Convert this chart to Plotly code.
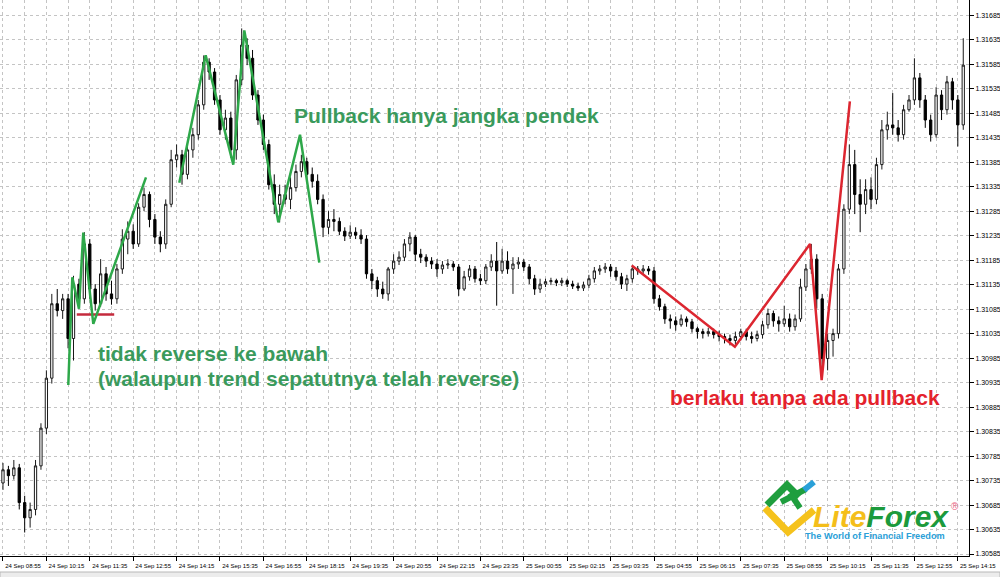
import plotly.graph_objects as go

# ---------------- data (10-minute bars) ----------------
opens = [
1.30730,1.30757,1.30745,1.30761,1.30690,1.30659,1.30676,1.30765,1.30842,1.30944,
1.31096,1.31082,1.31106,1.31025,1.31136,1.31106,1.31218,1.31126,1.31096,1.31157,
1.31116,1.31106,1.31167,1.31228,1.31244,1.31218,1.31293,1.31319,1.31268,1.31232,
1.31218,1.31299,1.31390,1.31400,1.31360,1.31410,1.31441,1.31502,1.31589,1.31569,
1.31512,1.31451,1.31475,1.31410,1.31553,1.31624,1.31597,1.31522,1.31471,1.31421,
1.31339,1.31299,1.31319,1.31309,1.31333,1.31366,1.31386,1.31360,1.31346,1.31309,
1.31252,1.31268,1.31264,1.31244,1.31234,1.31242,1.31236,1.31228,1.31157,1.31143,
1.31126,1.31116,1.31167,1.31183,1.31191,1.31218,1.31232,1.31197,1.31191,1.31183,
1.31177,1.31167,1.31175,1.31177,1.31171,1.31126,1.31151,1.31167,1.31147,1.31143,
1.31171,1.31183,1.31163,1.31183,1.31167,1.31177,1.31181,1.31171,1.31147,1.31126,
1.31136,1.31141,1.31143,1.31139,1.31143,1.31136,1.31132,1.31128,1.31134,1.31147,
1.31163,1.31167,1.31171,1.31163,1.31151,1.31136,1.31147,1.31167,1.31163,1.31167,
1.31163,1.31106,1.31090,1.31065,1.31061,1.31053,1.31065,1.31059,1.31045,1.31039,
1.31035,1.31039,1.31033,1.31029,1.31025,1.31021,1.31029,1.31039,1.31029,1.31025,
1.31033,1.31053,1.31076,1.31061,1.31055,1.31065,1.31049,1.31065,1.31130,1.31167,
1.31187,1.31106,1.30984,1.31021,1.31035,1.31167,1.31289,1.31380,1.31319,1.31299,
1.31329,1.31309,1.31380,1.31451,1.31461,1.31455,1.31441,1.31492,1.31512,1.31557,
1.31512,1.31471,1.31441,1.31522,1.31492,1.31549,1.31512,1.31461]

highs = [
1.30771,1.30765,1.30777,1.30769,1.30704,1.30690,1.30777,1.30852,1.30960,1.31116,
1.31126,1.31116,1.31116,1.31153,1.31147,1.31242,1.31228,1.31136,1.31187,1.31171,
1.31143,1.31177,1.31248,1.31264,1.31258,1.31301,1.31333,1.31325,1.31279,1.31244,
1.31309,1.31410,1.31421,1.31410,1.31421,1.31455,1.31512,1.31603,1.31597,1.31577,
1.31522,1.31492,1.31488,1.31563,1.31658,1.31638,1.31614,1.31532,1.31482,1.31431,
1.31360,1.31339,1.31339,1.31354,1.31380,1.31400,1.31394,1.31374,1.31360,1.31319,
1.31285,1.31289,1.31272,1.31252,1.31256,1.31252,1.31248,1.31236,1.31167,1.31151,
1.31141,1.31171,1.31197,1.31203,1.31228,1.31242,1.31236,1.31208,1.31197,1.31191,
1.31187,1.31183,1.31187,1.31183,1.31177,1.31163,1.31175,1.31173,1.31157,1.31177,
1.31197,1.31222,1.31208,1.31203,1.31191,1.31191,1.31187,1.31177,1.31155,1.31147,
1.31147,1.31149,1.31147,1.31149,1.31147,1.31143,1.31139,1.31141,1.31155,1.31171,
1.31175,1.31179,1.31177,1.31171,1.31159,1.31155,1.31175,1.31173,1.31175,1.31173,
1.31171,1.31114,1.31096,1.31074,1.31070,1.31074,1.31070,1.31065,1.31049,1.31045,
1.31047,1.31045,1.31041,1.31035,1.31033,1.31039,1.31045,1.31045,1.31039,1.31041,
1.31061,1.31086,1.31082,1.31070,1.31092,1.31076,1.31074,1.31147,1.31177,1.31218,
1.31197,1.31116,1.31035,1.31045,1.31177,1.31299,1.31421,1.31410,1.31350,1.31350,
1.31354,1.31394,1.31471,1.31488,1.31526,1.31471,1.31502,1.31522,1.31597,1.31567,
1.31522,1.31482,1.31538,1.31532,1.31561,1.31557,1.31522,1.31638]

lows = [
1.30716,1.30724,1.30737,1.30676,1.30629,1.30639,1.30664,1.30757,1.30830,1.30933,
1.31070,1.31065,1.31005,1.30980,1.31086,1.31096,1.31106,1.31082,1.31090,1.31102,
1.31094,1.31096,1.31157,1.31197,1.31208,1.31212,1.31285,1.31252,1.31218,1.31201,
1.31208,1.31293,1.31374,1.31339,1.31350,1.31394,1.31431,1.31492,1.31553,1.31502,
1.31441,1.31431,1.31394,1.31390,1.31542,1.31583,1.31512,1.31461,1.31410,1.31329,
1.31279,1.31262,1.31299,1.31289,1.31325,1.31354,1.31350,1.31333,1.31299,1.31232,
1.31238,1.31244,1.31236,1.31224,1.31228,1.31228,1.31218,1.31147,1.31126,1.31110,
1.31106,1.31102,1.31157,1.31175,1.31183,1.31203,1.31183,1.31179,1.31171,1.31167,
1.31151,1.31157,1.31167,1.31163,1.31112,1.31122,1.31143,1.31139,1.31134,1.31136,
1.31163,1.31092,1.31157,1.31157,1.31116,1.31167,1.31163,1.31136,1.31114,1.31118,
1.31130,1.31134,1.31132,1.31132,1.31130,1.31126,1.31122,1.31122,1.31128,1.31139,
1.31155,1.31159,1.31151,1.31143,1.31126,1.31122,1.31139,1.31155,1.31157,1.31155,
1.31096,1.31082,1.31055,1.31045,1.31041,1.31049,1.31049,1.31037,1.31025,1.31025,
1.31029,1.31025,1.31019,1.31015,1.31011,1.31013,1.31021,1.31021,1.31015,1.31019,
1.31025,1.31045,1.31049,1.31039,1.31049,1.31039,1.31041,1.31059,1.31122,1.31157,
1.31086,1.30944,1.30960,1.30988,1.31025,1.31157,1.31279,1.31279,1.31242,1.31279,
1.31289,1.31299,1.31370,1.31431,1.31441,1.31427,1.31431,1.31488,1.31502,1.31496,
1.31455,1.31427,1.31435,1.31471,1.31482,1.31492,1.31417,1.31451]

closes = [
1.30757,1.30745,1.30761,1.30690,1.30659,1.30676,1.30765,1.30842,1.30944,1.31096,
1.31082,1.31106,1.31025,1.31136,1.31106,1.31218,1.31126,1.31096,1.31157,1.31116,
1.31106,1.31167,1.31228,1.31244,1.31218,1.31293,1.31319,1.31268,1.31232,1.31218,
1.31299,1.31390,1.31400,1.31360,1.31410,1.31441,1.31502,1.31589,1.31569,1.31512,
1.31451,1.31475,1.31410,1.31553,1.31624,1.31597,1.31522,1.31471,1.31421,1.31339,
1.31299,1.31319,1.31309,1.31333,1.31366,1.31386,1.31360,1.31346,1.31309,1.31252,
1.31268,1.31264,1.31244,1.31234,1.31242,1.31236,1.31228,1.31157,1.31143,1.31126,
1.31116,1.31167,1.31183,1.31191,1.31218,1.31232,1.31197,1.31191,1.31183,1.31177,
1.31167,1.31175,1.31177,1.31171,1.31126,1.31151,1.31167,1.31147,1.31143,1.31171,
1.31183,1.31163,1.31183,1.31167,1.31177,1.31181,1.31171,1.31147,1.31126,1.31136,
1.31141,1.31143,1.31139,1.31143,1.31136,1.31132,1.31128,1.31134,1.31147,1.31163,
1.31167,1.31171,1.31163,1.31151,1.31136,1.31147,1.31167,1.31163,1.31167,1.31163,
1.31106,1.31090,1.31065,1.31061,1.31053,1.31065,1.31059,1.31045,1.31039,1.31035,
1.31039,1.31033,1.31029,1.31025,1.31021,1.31029,1.31039,1.31029,1.31025,1.31033,
1.31053,1.31076,1.31061,1.31055,1.31065,1.31049,1.31065,1.31130,1.31167,1.31187,
1.31106,1.30984,1.31021,1.31035,1.31167,1.31289,1.31380,1.31319,1.31299,1.31329,
1.31309,1.31380,1.31451,1.31461,1.31455,1.31441,1.31492,1.31512,1.31557,1.31512,
1.31471,1.31441,1.31522,1.31492,1.31549,1.31512,1.31461,1.31583]

bars = list(range(len(closes)))

tick_bars = list(range(0, 177, 8))
tick_labels = [
    "24 Sep 08:55", "24 Sep 10:15", "24 Sep 11:35", "24 Sep 12:55", "24 Sep 14:15",
    "24 Sep 15:35", "24 Sep 16:55", "24 Sep 18:15", "24 Sep 19:35", "24 Sep 20:55",
    "24 Sep 22:15", "24 Sep 23:35", "25 Sep 00:55", "25 Sep 02:15", "25 Sep 03:35",
    "25 Sep 04:55", "25 Sep 06:15", "25 Sep 07:35", "25 Sep 08:55", "25 Sep 10:15",
    "25 Sep 11:35", "25 Sep 12:55", "25 Sep 14:15"]
minor_bars = list(range(4, 178, 8))

y_ticks = [1.30585, 1.30635, 1.30685, 1.30735, 1.30785, 1.30835, 1.30885, 1.30935,
           1.30985, 1.31035, 1.31085, 1.31135, 1.31185, 1.31235, 1.31285, 1.31335,
           1.31385, 1.31435, 1.31485, 1.31535, 1.31585, 1.31635, 1.31685]

# hand-drawn analysis lines (bar index, price)
green_a_x = [12.04, 12.78, 14.0, 14.8, 16.65, 26.36]
green_a_p = [1.30930, 1.31150, 1.31086, 1.31241, 1.31055, 1.31354]
green_b_x = [32.5, 37.36, 42.45, 44.48, 50.75, 54.75, 58.3]
green_b_p = [1.31343, 1.31603, 1.31380, 1.31654, 1.31262, 1.31441, 1.31180]
red_x = [115.9, 134.9, 148.76, 150.9, 156.1]
red_p = [1.31174, 1.31008, 1.31218, 1.30940, 1.31509]
level_x = [13.6, 20.5]
level_p = [1.31074, 1.31074]

# ---------------- figure ----------------
W, H = 1000, 577
ML, MR, MT, MB = 0, 31, 0, 21
PW, PH = W - ML - MR, H - MT - MB


def px(x):
    return (x - ML) / PW


def py(y):
    return 1 - (y - MT) / PH


GRID = "#c4c4c4"
fig = go.Figure()
fig.add_trace(go.Candlestick(
    x=bars, open=opens, high=highs, low=lows, close=closes,
    increasing=dict(line=dict(color="#1a1a1a", width=1), fillcolor="#ffffff"),
    decreasing=dict(line=dict(color="#000000", width=1), fillcolor="#000000"),
    whiskerwidth=0, showlegend=False, hoverinfo="skip"))

fig.add_trace(go.Scatter(x=level_x, y=level_p, mode="lines",
                         line=dict(color="#c42a3c", width=2.5), showlegend=False))
for xs, ps in [(green_a_x, green_a_p), (green_b_x, green_b_p)]:
    fig.add_trace(go.Scatter(x=xs, y=ps, mode="lines",
                             line=dict(color="#2ea84a", width=2.5), showlegend=False))
fig.add_trace(go.Scatter(x=red_x, y=red_p, mode="lines",
                         line=dict(color="#dc2630", width=2.5), showlegend=False))

TXT = "Liberation Sans, Arial, sans-serif"
notes = [
    ("Pullback hanya jangka pendek", 292, 115, "#3a9a5c"),
    ("tidak reverse ke bawah", 96, 353, "#3a9a5c"),
    ("(walaupun trend sepatutnya telah reverse)", 96, 378, "#3a9a5c"),
    ("berlaku tanpa ada pullback", 668, 397, "#e4222c"),
]
for t, x, y, c in notes:
    fig.add_annotation(text="<b>%s</b>" % t, x=px(x), y=py(y), xref="paper", yref="paper",
                       xanchor="left", yanchor="middle", showarrow=False,
                       font=dict(family=TXT, size=21, color=c))

# logo
fig.add_annotation(
    text='<b><i><span style="color:#f4be1a">Lite</span><span style="color:#1c9a3c">Forex</span></i></b>',
    x=px(811), y=py(516), xref="paper", yref="paper", xanchor="left", yanchor="middle",
    showarrow=False, font=dict(family=TXT, size=30))
fig.add_annotation(text="®", x=px(949), y=py(506), xref="paper", yref="paper",
                   xanchor="left", yanchor="middle", showarrow=False,
                   font=dict(family=TXT, size=10, color="#ea6a86"))
fig.add_annotation(text="<b>The World of Financial Freedom</b>", x=px(803), y=py(536),
                   xref="paper", yref="paper", xanchor="left", yanchor="middle",
                   showarrow=False, font=dict(family=TXT, size=9.2, color="#2aa0d8"))


def path(pts):
    return "M " + " L ".join("%.5f,%.5f" % (px(a), py(b)) for a, b in pts)


icon = [
    ([(765, 508), (788, 532), (814, 510)], "#f5c21c", 7),
    ([(767, 505), (787, 485), (799, 497)], "#1f9e3e", 7),
    ([(781, 502), (806, 489)], "#1f9e3e", 6),
    ([(790, 493), (800, 508)], "#1f9e3e", 6),
    ([(804, 490), (814, 482)], "#2aa0d8", 6),
]
for pts, col, w in icon:
    fig.add_shape(type="path", path=path(pts), xref="paper", yref="paper",
                  line=dict(color=col, width=w))

# bottom strip of the terminal window
fig.add_shape(type="rect", xref="paper", yref="paper", x0=px(0), x1=px(1000),
              y0=py(572), y1=py(578), fillcolor="#ececec", line=dict(color="#b8b8b8", width=1))

fig.update_layout(
    width=W, height=H, autosize=False,
    margin=dict(l=ML, r=MR, t=MT, b=MB, pad=0, autoexpand=False),
    paper_bgcolor="white", plot_bgcolor="white",
    boxgap=0.4, showlegend=False, hovermode=False,
    xaxis=dict(
        range=[-0.55, 178.06], tickmode="array", tickvals=tick_bars, ticktext=tick_labels,
        ticks="outside", ticklen=4, tickcolor="#000", showline=True, linecolor="#000",
        linewidth=1, showgrid=True, gridcolor=GRID, gridwidth=1, griddash="3px,3px",
        zeroline=False, ticklabelshift=20, automargin=False,
        tickfont=dict(family=TXT, size=6, color="#000"),
        rangeslider=dict(visible=False),
        minor=dict(tickmode="array", tickvals=minor_bars, showgrid=True, gridcolor=GRID,
                   gridwidth=1, griddash="3px,3px", ticks=""),
    ),
    yaxis=dict(
        side="right", range=[1.30581, 1.31716], tickmode="array", tickvals=y_ticks,
        tickformat=".5f", ticks="outside", ticklen=4, tickcolor="#000",
        showline=True, linecolor="#000", linewidth=1, showgrid=True, gridcolor=GRID,
        gridwidth=1, griddash="3px,3px", zeroline=False, automargin=False,
        ticklabelstandoff=0,
        tickfont=dict(family=TXT, size=7, color="#000"),
    ),
)

fig.write_html(
    "out.html",
    config={"displayModeBar": False},
    post_script="document.body.style.margin='0';document.body.style.overflow='hidden';",
)
